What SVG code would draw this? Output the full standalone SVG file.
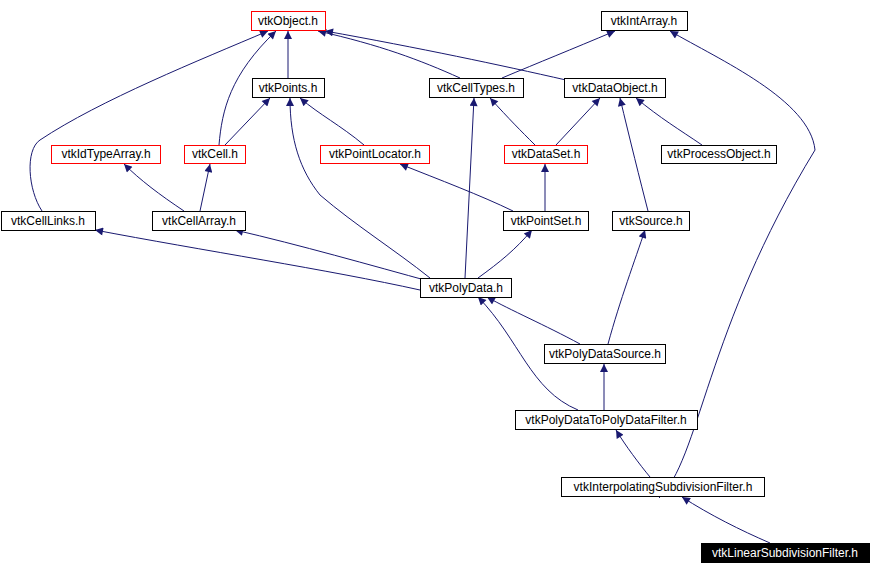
<svg xmlns="http://www.w3.org/2000/svg" width="872" height="576" viewBox="0 0 872 576">
<style>
.n rect{fill:#fff;stroke:#000;stroke-width:1}
.r rect{stroke:#f00}
text{font-family:"Liberation Sans",Arial,sans-serif;font-size:12px;text-anchor:middle;fill:#000}
#edges path{fill:none;stroke:#191970;stroke-width:1;marker-end:url(#a)}
</style>
<defs><marker id="a" viewBox="0 0 10 10" refX="10" refY="5" markerWidth="10" markerHeight="8" orient="auto" markerUnits="userSpaceOnUse"><path d="M0,0L10,5L0,10z" fill="#191970"/></marker></defs>
<rect width="872" height="576" fill="#fff"/>
<g id="edges">
<path d="M288,78L288,31"/>
<path d="M219,145C222,110 230,75 276,31"/>
<path d="M42,211C28,190 25,150 40,140C100,100 200,60 268,31"/>
<path d="M460,78C420,60 380,45 318,31"/>
<path d="M566,80C500,65 420,48 325,31"/>
<path d="M502,78C540,62 570,50 615,31"/>
<path d="M225,145L270,98"/>
<path d="M364,145C340,125 320,115 300,98"/>
<path d="M430,278C395,250 355,225 320,195C300,170 290,140 290,98"/>
<path d="M184,211C160,195 140,180 124,164"/>
<path d="M200,211L210,164"/>
<path d="M513,211C480,195 440,180 400,164"/>
<path d="M535,145C520,130 510,120 490,98"/>
<path d="M556,145L600,98"/>
<path d="M648,211C640,180 630,140 620,98"/>
<path d="M702,145C680,130 660,118 636,98"/>
<path d="M659,498C700,460 705,330 815,150C810,100 720,60 670,31"/>
<path d="M545,211L545,164"/>
<path d="M420,290C330,270 200,250 95,230"/>
<path d="M432,282C370,265 300,245 235,230"/>
<path d="M465,278L474,98"/>
<path d="M478,278C500,262 515,250 532,230"/>
<path d="M608,344C620,300 635,260 645,230"/>
<path d="M580,344C545,325 510,310 487,297"/>
<path d="M578,410C530,390 520,340 478,297"/>
<path d="M604,410L604,364"/>
<path d="M650,477C640,465 625,445 616,430"/>
<path d="M770,543C740,530 710,515 682,497"/>
</g>
<g id="vtkObject" class="n r"><rect x="251.5" y="11.5" width="74" height="19"/><text x="288" y="25">vtkObject.h</text></g>
<g id="vtkIntArray" class="n"><rect x="601.5" y="11.5" width="86" height="19"/><text x="644" y="25">vtkIntArray.h</text></g>
<g id="vtkPoints" class="n"><rect x="252.5" y="78.5" width="72" height="19"/><text x="288" y="92">vtkPoints.h</text></g>
<g id="vtkCellTypes" class="n"><rect x="429.5" y="78.5" width="94" height="19"/><text x="476" y="92">vtkCellTypes.h</text></g>
<g id="vtkDataObject" class="n"><rect x="564.5" y="78.5" width="101" height="19"/><text x="615" y="92">vtkDataObject.h</text></g>
<g id="vtkIdTypeArray" class="n r"><rect x="51.5" y="145.5" width="109" height="18"/><text x="106" y="158">vtkIdTypeArray.h</text></g>
<g id="vtkCell" class="n r"><rect x="184.5" y="145.5" width="61" height="18"/><text x="215" y="158">vtkCell.h</text></g>
<g id="vtkPointLocator" class="n r"><rect x="320.5" y="145.5" width="109" height="18"/><text x="375" y="158">vtkPointLocator.h</text></g>
<g id="vtkDataSet" class="n r"><rect x="504.5" y="145.5" width="83" height="18"/><text x="546" y="158">vtkDataSet.h</text></g>
<g id="vtkProcessObject" class="n"><rect x="661.5" y="145.5" width="115" height="18"/><text x="719" y="158">vtkProcessObject.h</text></g>
<g id="vtkCellLinks" class="n"><rect x="1.5" y="211.5" width="94" height="19"/><text x="48" y="225">vtkCellLinks.h</text></g>
<g id="vtkCellArray" class="n"><rect x="152.5" y="211.5" width="93" height="19"/><text x="199" y="225">vtkCellArray.h</text></g>
<g id="vtkPointSet" class="n"><rect x="503.5" y="211.5" width="85" height="19"/><text x="546" y="225">vtkPointSet.h</text></g>
<g id="vtkSource" class="n"><rect x="612.5" y="211.5" width="77" height="19"/><text x="651" y="225">vtkSource.h</text></g>
<g id="vtkPolyData" class="n"><rect x="420.5" y="278.5" width="91" height="19"/><text x="466" y="292">vtkPolyData.h</text></g>
<g id="vtkPolyDataSource" class="n"><rect x="544.5" y="344.5" width="121" height="19"/><text x="605" y="358">vtkPolyDataSource.h</text></g>
<g id="vtkPolyDataToPolyDataFilter" class="n"><rect x="515.5" y="410.5" width="182" height="19"/><text x="606" y="424">vtkPolyDataToPolyDataFilter.h</text></g>
<g id="vtkInterpolatingSubdivisionFilter" class="n"><rect x="561.5" y="477.5" width="203" height="19"/><text x="663" y="491">vtkInterpolatingSubdivisionFilter.h</text></g>
<g id="vtkLinearSubdivisionFilter"><rect x="701.5" y="543.5" width="168" height="19" fill="#000" stroke="#000"/><text x="785" y="557" fill="#fff" style="fill:#fff">vtkLinearSubdivisionFilter.h</text></g>
</svg>
